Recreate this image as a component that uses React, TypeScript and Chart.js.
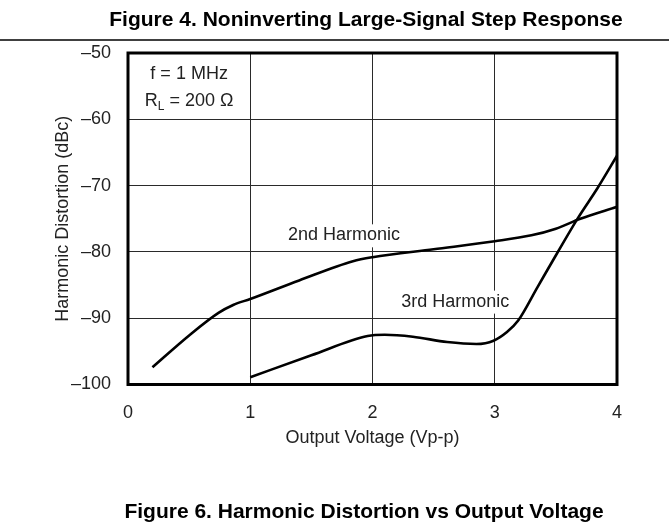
import React, { useEffect, useRef } from 'react';
import { Chart, registerables } from 'chart.js';

Chart.register(...registerables);

const FONT = '"Liberation Sans", Arial, Helvetica, sans-serif';

// ---- data ----
const xTickValues = [0, 1, 2, 3, 4];
const yMin = -100;
const yMax = -50;
const yStep = 10;

const secondX = [0.2, 0.5, 0.74, 0.86, 1.0, 1.4, 1.84, 2.0, 2.5, 3.0, 3.3, 3.5, 3.7, 4.0];
const secondY = [-97.4, -92.6, -89.2, -88.0, -87.1, -84.3, -81.4, -80.8, -79.6, -78.4, -77.5, -76.5, -75.0, -73.2];

const thirdX = [1.0, 1.5, 1.96, 2.1, 2.33, 2.61, 2.85, 2.99, 3.1, 3.19, 3.35, 3.51, 3.68, 3.84, 4.0];
const thirdY = [-98.9, -95.6, -92.7, -92.5, -92.8, -93.6, -93.9, -93.4, -92.1, -90.4, -85.3, -80.2, -74.9, -70.4, -65.5];

const seriesNames = ['2nd Harmonic', '3rd Harmonic'];
const seriesLabelX = [1.767, 2.677];
const seriesLabelY = [-77.5, -87.5];

const topTitle = 'Figure 4. Noninverting Large-Signal Step Response';
const bottomTitle = 'Figure 6. Harmonic Distortion vs Output Voltage';
const xAxisTitle = 'Output Voltage (Vp-p)';
const yAxisTitle = 'Harmonic Distortion (dBc)';
const condText1 = 'f = 1 MHz';
const condMain = 'R';
const condSub = 'L';
const condRest = ' = 200 \u03A9';
const condX = 0.5;
const condY1 = -53.2;
const condY2 = -57.3;

const decorPlugin = {
  id: 'decor',
  beforeDatasetsDraw(chart: any) {
    const { ctx, scales } = chart;
    const xs = scales.x;
    const ys = scales.y;
    ctx.save();
    ctx.font = `18px ${FONT}`;
    ctx.textAlign = 'center';
    ctx.textBaseline = 'middle';
    seriesNames.forEach((t, i) => {
      const px = xs.getPixelForValue(seriesLabelX[i]);
      const py = ys.getPixelForValue(seriesLabelY[i]);
      const w = ctx.measureText(t).width;
      ctx.fillStyle = '#ffffff';
      ctx.fillRect(px - w / 2 - 3, py - 11, w + 6, 23);
      ctx.fillStyle = '#222222';
      ctx.fillText(t, px, py);
    });
    // conditions box text
    const cx = xs.getPixelForValue(condX);
    ctx.fillStyle = '#222222';
    ctx.fillText(condText1, cx, ys.getPixelForValue(condY1));
    const y2 = ys.getPixelForValue(condY2);
    ctx.font = `18px ${FONT}`;
    const wMain = ctx.measureText(condMain).width;
    const wRest = ctx.measureText(condRest).width;
    ctx.font = `12px ${FONT}`;
    const wSub = ctx.measureText(condSub).width;
    const total = wMain + wSub + wRest;
    let sx = cx - total / 2;
    ctx.textAlign = 'left';
    ctx.font = `18px ${FONT}`;
    ctx.fillText(condMain, sx, y2);
    sx += wMain;
    ctx.font = `12px ${FONT}`;
    ctx.fillText(condSub, sx, y2 + 5);
    sx += wSub;
    ctx.font = `18px ${FONT}`;
    ctx.fillText(condRest, sx, y2);
    ctx.restore();
  },
  afterDraw(chart: any) {
    const { ctx, chartArea } = chart;
    ctx.save();
    ctx.strokeStyle = '#000000';
    ctx.lineWidth = 3;
    ctx.strokeRect(chartArea.left, chartArea.top, chartArea.right - chartArea.left, chartArea.bottom - chartArea.top);
    // titles
    ctx.fillStyle = '#000000';
    ctx.textAlign = 'center';
    ctx.textBaseline = 'alphabetic';
    ctx.font = `bold 21px ${FONT}`;
    ctx.fillText(topTitle, 366, 26);
    ctx.fillText(bottomTitle, 364, 518);
    // separator line
    ctx.lineWidth = 1.5;
    ctx.beginPath();
    ctx.moveTo(0, 40);
    ctx.lineTo(chart.width, 40);
    ctx.stroke();
    ctx.restore();
  },
};

export default function App() {
  const canvasRef = useRef<HTMLCanvasElement | null>(null);

  useEffect(() => {
    const canvas = canvasRef.current;
    if (!canvas) return;
    const chart = new Chart(canvas, {
      type: 'line',
      data: {
        datasets: [
          {
            label: seriesNames[0],
            data: secondX.map((x, i) => ({ x, y: secondY[i] })),
            borderColor: '#000000',
            borderWidth: 2.6,
            pointRadius: 0,
            fill: false,
            cubicInterpolationMode: 'monotone',
          },
          {
            label: seriesNames[1],
            data: thirdX.map((x, i) => ({ x, y: thirdY[i] })),
            borderColor: '#000000',
            borderWidth: 2.6,
            pointRadius: 0,
            fill: false,
            cubicInterpolationMode: 'monotone',
          },
        ],
      },
      options: {
        responsive: false,
        animation: false,
        events: [],
        layout: { padding: { left: 0, right: 52, top: 53, bottom: 529 - 384.5 - 70 } },
        plugins: {
          legend: { display: false },
          tooltip: { enabled: false },
          title: { display: false },
        },
        scales: {
          x: {
            type: 'linear',
            min: 0,
            max: 4,
            afterBuildTicks: (s: any) => {
              s.ticks = xTickValues.map((v) => ({ value: v }));
            },
            afterFit: (s: any) => {
              s.height = 70;
            },
            grid: { color: '#2a2a2a', lineWidth: 1, drawTicks: false },
            border: { display: false },
            ticks: {
              font: { family: FONT, size: 18 },
              color: '#222222',
              padding: 18,
              maxRotation: 0,
              autoSkip: false,
            },
            title: {
              display: true,
              text: xAxisTitle,
              font: { family: FONT, size: 18 },
              color: '#222222',
              padding: { top: 0, bottom: 6 },
            },
          },
          y: {
            type: 'linear',
            min: yMin,
            max: yMax,
            afterFit: (s: any) => {
              s.width = 128;
            },
            grid: { color: '#2a2a2a', lineWidth: 1, drawTicks: false },
            border: { display: false },
            ticks: {
              stepSize: yStep,
              font: { family: FONT, size: 18 },
              color: '#222222',
              padding: 17,
              callback: (v: any) => (Number(v) < 0 ? '\u2013' + Math.abs(Number(v)) : String(v)),
            },
            title: {
              display: true,
              text: yAxisTitle,
              font: { family: FONT, size: 18 },
              color: '#222222',
              padding: { top: 52.7, bottom: 0 },
            },
          },
        },
      },
      plugins: [decorPlugin],
    });
    return () => chart.destroy();
  }, []);

  return (
    <div style={{ position: 'fixed', left: 0, top: 0, width: 669, height: 529, background: '#ffffff' }}>
      <canvas ref={canvasRef} width={669} height={529} style={{ width: 669, height: 529, display: 'block' }} />
    </div>
  );
}
